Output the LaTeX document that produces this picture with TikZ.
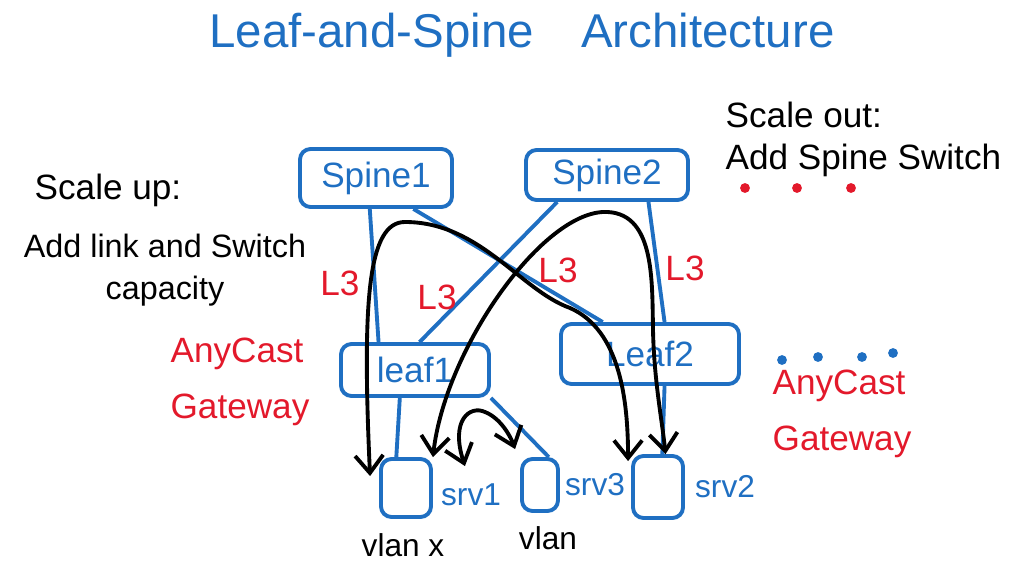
\documentclass[tikz,border=0pt]{standalone}
\usepackage{fontspec}
\setmainfont{Liberation Sans}
\usetikzlibrary{arrows.meta, positioning, calc}
\definecolor{penblue}{HTML}{1F6FC2}
\definecolor{penred}{HTML}{E3192B}

\begin{document}
\begin{tikzpicture}[>={Straight Barb[length=5pt,width=8pt]},
    box/.style={draw=penblue, line width=1.1pt, rounded corners=3pt, text=penblue, inner sep=0pt},
    link/.style={penblue, line width=1.1pt},
    flow/.style={<->, line width=1.1pt, line cap=round},
    lbl/.style={text=penred},
    srvlbl/.style={text=penblue, font=\small, inner sep=1pt}]
  \useasboundingbox (0,0) rectangle (10.25,-5.69);
  \node[text=penblue, font=\fontsize{13.5}{16}\selectfont] (title) at (5.22,-0.35) {Leaf-and-Spine\quad Architecture};
  \node[box, minimum width=1.52cm, minimum height=0.58cm] (spine1) at (3.76,-1.78) {Spine1};
  \node[box, minimum width=1.62cm, minimum height=0.50cm] (spine2) at (6.07,-1.75) {Spine2};
  \node[box, minimum width=1.48cm, minimum height=0.52cm] (leaf1) at (4.15,-3.70) {leaf1};
  \node[box, minimum width=1.78cm, minimum height=0.60cm] (leaf2) at (6.50,-3.54) {Leaf2};
  \node[box, minimum width=0.50cm, minimum height=0.58cm] (srv1) at (4.06,-4.88) {};
  \node[box, minimum width=0.36cm, minimum height=0.52cm] (srv3) at (5.40,-4.85) {};
  \node[box, minimum width=0.50cm, minimum height=0.62cm] (srv2) at (6.58,-4.87) {};
  \node[srvlbl, right=0.04cm of srv1, yshift=-0.07cm] (srv1lbl) {srv1};
  \node[srvlbl, right=0.01cm of srv3] (srv3lbl) {srv3};
  \node[srvlbl, right=0.06cm of srv2] (srv2lbl) {srv2};
  \node[font=\small] (vlanx) at (4.03,-5.45) {vlan x};
  \node[font=\small] (vlany) at (5.48,-5.38) {vlan};

  \draw[link] ($(spine1.south west)!0.46!(spine1.south east)$) -- ($(leaf1.north west)!0.26!(leaf1.north east)$);
  \draw[link] ($(spine1.south west)!0.74!(spine1.south east)$) -- ($(leaf2.north west)!0.24!(leaf2.north east)$);
  \draw[link] ($(spine2.south west)!0.20!(spine2.south east)$) -- ($(leaf1.north west)!0.53!(leaf1.north east)$);
  \draw[link] ($(spine2.south west)!0.75!(spine2.south east)$) -- ($(leaf2.north west)!0.58!(leaf2.north east)$);
  \draw[link] ($(leaf1.south west)!0.40!(leaf1.south east)$) -- ($(srv1.north west)!0.32!(srv1.north east)$);
  \draw[link] (leaf1.south east) -- ($(srv3.north west)!0.72!(srv3.north east)$);
  \draw[link] ($(leaf2.south west)!0.58!(leaf2.south east)$) -- ($(srv2.north west)!0.58!(srv2.north east)$);

  \draw[flow] ([xshift=-0.09cm,yshift=-0.19cm]srv1.north west)
    .. controls (3.62,-3.00) and (3.68,-2.22) .. (4.05,-2.22)
    .. controls (4.80,-2.22) and (5.20,-2.90) .. (5.70,-3.08)
    .. controls (6.20,-3.30) and (6.28,-4.00) .. ([xshift=-0.03cm,yshift=-0.07cm]srv2.north west);
  \draw[flow] (srv1.north east)
    .. controls (4.45,-3.50) and (5.40,-2.15) .. (6.03,-2.12)
    .. controls (6.55,-2.10) and (6.52,-2.80) .. (6.53,-3.30)
    .. controls (6.54,-3.80) and (6.62,-4.20) .. ($(srv2.north west)!0.64!(srv2.north east)$);
  \draw[flow] ([xshift=0.32cm,yshift=-0.09cm]srv1.north east)
    .. controls (4.50,-4.20) and (4.70,-4.05) .. (4.85,-4.12)
    .. controls (5.00,-4.18) and (5.10,-4.35) .. ([xshift=-0.05cm,yshift=0.08cm]srv3.north west);

  \node[lbl] (l3a) at (3.40,-2.83) {L3};
  \node[lbl] (l3b) at (4.37,-2.97) {L3};
  \node[lbl] (l3c) at (5.58,-2.70) {L3};
  \node[lbl] (l3d) at (6.85,-2.68) {L3};
  \node[lbl, align=left] (gwleft) at (2.40,-3.82) {AnyCast\\[4pt]Gateway};
  \node[lbl, align=left] (gwright) at (8.42,-4.14) {AnyCast\\[4pt]Gateway};

  \node (scaleup) at (1.08,-1.90) {Scale up:};
  \node[align=center, font=\fontsize{9.2}{12}\selectfont] (scaleupnote) at (1.65,-2.70) {Add link and Switch\\capacity};
  \node[align=left, anchor=west, inner sep=0pt] (scaleout) at (7.25,-1.39) {Scale out:\\Add Spine Switch};
  \foreach \x in {7.45,7.97,8.51}
    \fill[penred] (\x,-1.88) circle (1.4pt);
  \foreach \x/\y in {7.82/-3.60,8.18/-3.57,8.62/-3.57,8.93/-3.53}
    \fill[penblue] (\x,\y) circle (1.4pt);
\end{tikzpicture}
\end{document}
